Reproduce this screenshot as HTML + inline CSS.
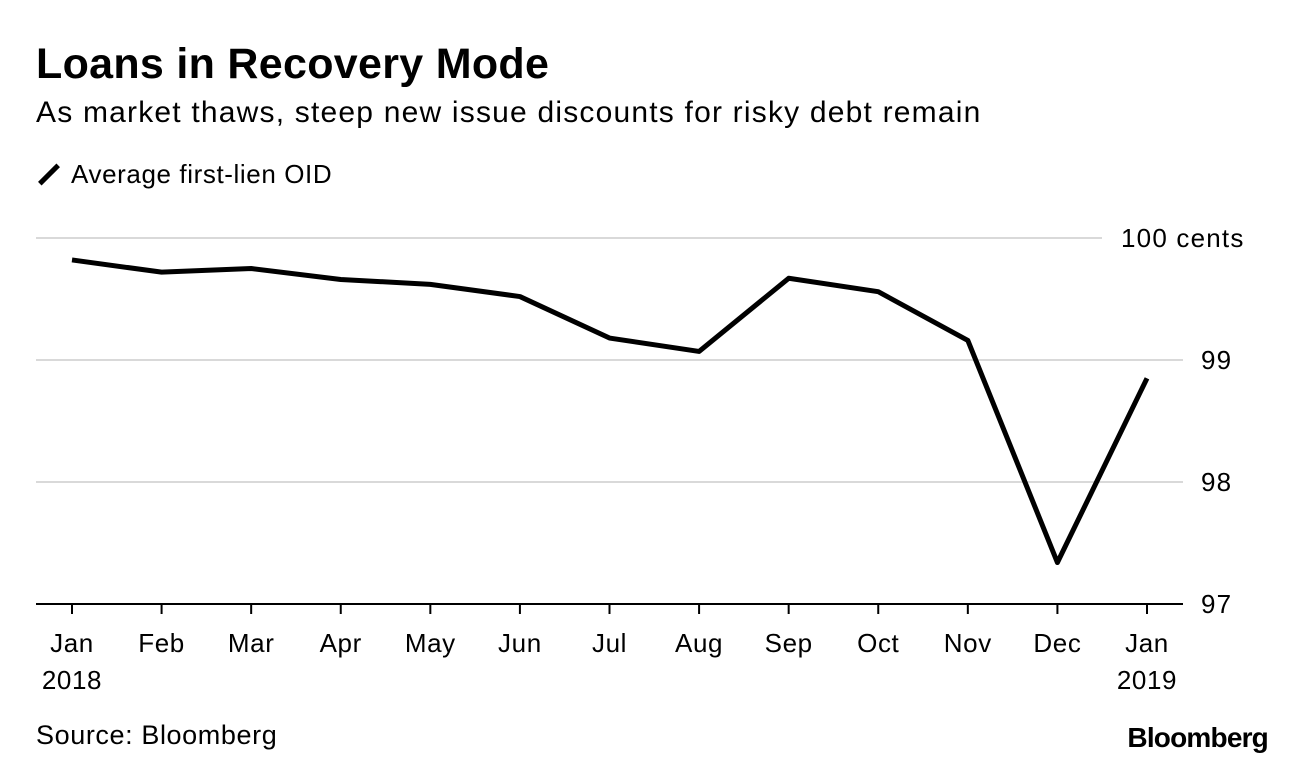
<!DOCTYPE html>
<html><head><meta charset="utf-8"><style>
body{margin:0;background:#fff;font-family:"Liberation Sans",Arial,sans-serif;}
#wrap{position:relative;width:1296px;height:768px;overflow:hidden;}
.t{position:absolute;white-space:nowrap;color:#000;}
</style></head><body>
<div id="wrap">
<div class="t" style="left:36px;top:40px;font-size:43px;font-weight:bold;letter-spacing:0.3px">Loans in Recovery Mode</div>
<div class="t" style="left:36px;top:96px;font-size:30px;letter-spacing:1.2px">As market thaws, steep new issue discounts for risky debt remain</div>
<div class="t" style="left:36px;top:159px;font-size:26px;letter-spacing:0.6px"><span style="display:inline-block;width:26px;height:5px;background:#000;transform:rotate(-45deg);vertical-align:middle;margin:0 9px 4px 0"></span>Average first-lien OID</div>
<svg id="chart" width="1296" height="768" style="position:absolute;left:0;top:0"></svg>
<div class="t" style="left:36px;top:720px;font-size:27px;letter-spacing:0.6px">Source: Bloomberg</div>
<div class="t" style="right:28px;top:722px;font-size:28px;font-weight:bold;letter-spacing:-0.8px">Bloomberg</div>
</div>
<script>
const months=["Jan","Feb","Mar","Apr","May","Jun","Jul","Aug","Sep","Oct","Nov","Dec","Jan"];
const years=["2018","","","","","","","","","","","","2019"];
const values=[99.82,99.72,99.75,99.66,99.62,99.52,99.18,99.07,99.67,99.56,99.16,97.34,98.85];
const yTicks=[100,99,98,97];
const yTickLabels=["100 cents","99","98","97"];
const svg=document.getElementById('chart');
const NS='http://www.w3.org/2000/svg';
const x=i=>72+i*(1147-72)/12;
const y=v=>604-(v-97)*122;
function mk(t,a){const e=document.createElementNS(NS,t);for(const k in a)e.setAttribute(k,a[k]);svg.appendChild(e);return e;}
yTicks.forEach((v,i)=>{
 const top=i===0;
 if(v!==97){const g=mk('line',{x1:36,x2:top?1102:1183,y1:y(v),y2:y(v),stroke:'#d9d9d9','stroke-width':2});
 
 }
 const t=mk('text',{x:top?1121:1201,y:y(v)+9,'font-size':26,'letter-spacing':1.2,'font-family':'Liberation Sans'});
 t.textContent=yTickLabels[i];
 
 
});
const base=mk('line',{x1:36,x2:1183,y1:604,y2:604,stroke:'#000','stroke-width':2});


months.forEach((m,i)=>{
 const tk=mk('line',{x1:x(i),x2:x(i),y1:604,y2:614,stroke:'#000','stroke-width':2});
 
 
 const t=mk('text',{x:x(i),y:652,'font-size':26,'letter-spacing':0.6,'text-anchor':'middle','font-family':'Liberation Sans'});
 t.textContent=m;
 
 
 if(years[i]){const yt=mk('text',{x:x(i),y:689,'font-size':26,'letter-spacing':0.6,'text-anchor':'middle','font-family':'Liberation Sans'});
 yt.textContent=years[i];
 
 }
});
const p=mk('polyline',{points:values.map((v,i)=>x(i)+','+y(v)).join(' '),fill:'none',stroke:'#000','stroke-width':5,'stroke-linejoin':'round'});


</script>
</body></html>
